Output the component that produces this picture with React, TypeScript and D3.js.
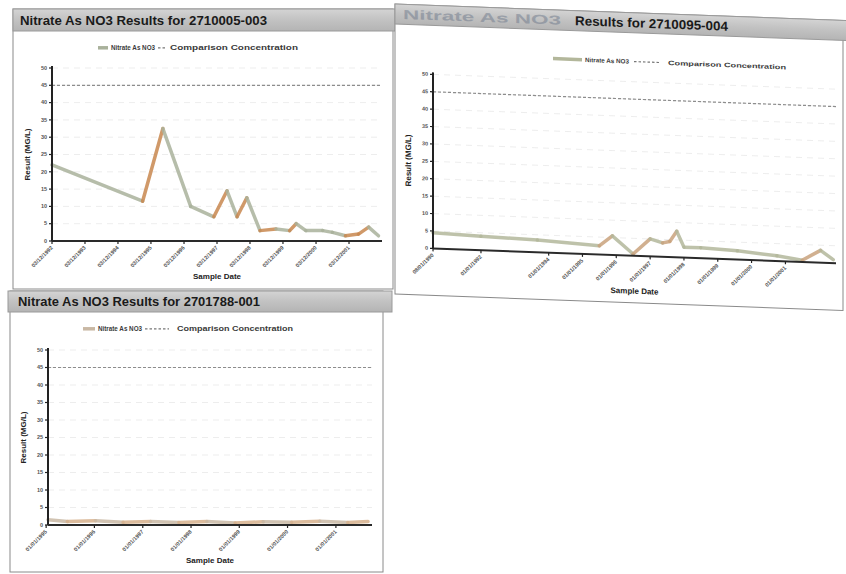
import React from 'react';
import * as d3 from 'd3';

// sample dates and results
const siteADates = ['1992-03-12', '1994-12-10', '1995-07-22', '1996-05-25', '1997-02-05', '1997-07-01', '1997-10-20', '1998-02-05', '1998-07-01', '1998-12-25', '1999-05-25', '1999-08-05', '1999-11-20', '2000-05-25', '2000-09-10', '2001-02-01', '2001-06-25', '2001-10-15', '2002-02-01'];
const siteAValues = [22, 11.5, 32.5, 10, 7, 14.5, 7, 12.5, 3, 3.5, 3, 5, 3, 3, 2.5, 1.5, 2, 4, 1.5];
const siteATicks = ['1992-03-12', '1993-03-12', '1994-03-12', '1995-03-12', '1996-03-12', '1997-03-12', '1998-03-12', '1999-03-12', '2000-03-12', '2001-03-12'];

const siteBDates = ['1990-08-01', '1992-01-01', '1993-09-01', '1995-07-01', '1995-11-20', '1996-07-01', '1997-01-01', '1997-05-15', '1997-08-01', '1997-10-15', '1998-01-01', '1998-07-01', '1999-08-01', '2000-10-01', '2001-07-01', '2002-01-15', '2002-06-01'];
const siteBValues = [4.5, 4, 3.5, 2.5, 5.5, 0.5, 5, 4, 4.5, 7.5, 3, 3, 2.5, 1.5, 0.5, 3.5, 1];
const siteBTicks = ['1990-08-01', '1992-01-01', '1994-01-01', '1995-01-01', '1996-01-01', '1997-01-01', '1998-01-01', '1999-01-01', '2000-01-01', '2001-01-01'];

const siteCDates = ['1995-01-15', '1995-06-10', '1996-01-10', '1996-08-05', '1997-03-01', '1997-10-01', '1998-05-01', '1998-12-01', '1999-07-01', '2000-02-01', '2000-09-01', '2001-04-01', '2001-09-01'];
const siteCValues = [1.5, 1, 1.2, 0.8, 1, 0.7, 1, 0.6, 0.9, 0.8, 1.1, 0.7, 1];
const siteCTicks = ['1995-01-01', '1996-01-01', '1997-01-01', '1998-01-01', '1999-01-01', '2000-01-01', '2001-01-01'];

const yTicks = [0, 5, 10, 15, 20, 25, 30, 35, 40, 45, 50];
const comparison = 45;

const parse = d3.timeParse('%Y-%m-%d');
const fmt = d3.timeFormat('%m/%d/%Y');
const FONT = '"Liberation Sans", Arial, sans-serif';

type Box = { x: number; y: number; w: number; h: number };
type Plot = { x0: number; x1: number; yTop: number; yBottom: number; end: string };
// legend: swatch start, text1 start/len, dash start/end, text2 start/len
type Legend = { y: number; sw: number; t1: number; t1Len: number; d0: number; d1: number; t2: number; t2Len: number };

interface PanelProps {
  title: string;
  titleX: number;
  titleLen: number;
  faded?: string;
  fadedX?: number;
  fadedLen?: number;
  frame: Box;
  bar: Box;
  plot: Plot;
  dates: string[];
  values: number[];
  ticks: string[];
  upColor: string;
  downColor: string;
  legend: Legend;
  transform?: string;
}

const Panel: React.FC<PanelProps> = (p) => {
  const pts = p.dates.map((d, i) => ({ date: parse(d)!, value: p.values[i] }));
  const x = d3
    .scaleTime()
    .domain([pts[0].date, parse(p.plot.end)!])
    .range([p.plot.x0, p.plot.x1]);
  const y = d3.scaleLinear().domain([0, 50]).range([p.plot.yBottom, p.plot.yTop]);
  const line = d3
    .line<{ date: Date; value: number }>()
    .x((d) => x(d.date))
    .y((d) => y(d.value));

  const segs = pts.slice(1).map((b, i) => ({ a: pts[i], b }));
  const midX = (p.plot.x0 + p.plot.x1) / 2;
  const midY = (p.plot.yTop + p.plot.yBottom) / 2;
  const gid = `bar${p.frame.x}${p.frame.y}`;
  const lg = p.legend;
  const ty = p.bar.y + p.bar.h / 2 + 4.6;

  return (
    <g transform={p.transform}>
      {/* frame */}
      <rect x={p.frame.x} y={p.frame.y} width={p.frame.w} height={p.frame.h} fill="#fff" stroke="#8a8a8a" strokeWidth={1} />
      <defs>
        <linearGradient id={gid} x1="0" x2="0" y1="0" y2="1">
          <stop offset="0" stopColor="#d4d4d4" />
          <stop offset="0.5" stopColor="#c2c2c2" />
          <stop offset="1" stopColor="#b4b4b4" />
        </linearGradient>
      </defs>
      <rect x={p.bar.x} y={p.bar.y} width={p.bar.w} height={p.bar.h} fill={`url(#${gid})`} stroke="#9a9a9a" />
      {p.faded ? (
        <text x={p.fadedX} y={ty} textLength={p.fadedLen} lengthAdjust="spacingAndGlyphs" fontFamily={FONT} fontWeight="bold" fontSize={13} fill="#6f7a8c" opacity={0.5}>
          {p.faded}
        </text>
      ) : null}
      <text x={p.titleX} y={ty} textLength={p.titleLen} lengthAdjust="spacingAndGlyphs" fontFamily={FONT} fontWeight="bold" fontSize={13} fill="#1a1a1a">
        {p.title}
      </text>

      {/* legend */}
      <g fontFamily={FONT} fontWeight="bold" fontSize={6.3} fill="#3a3a3a">
        <line x1={lg.sw} x2={lg.t1 - 3} y1={lg.y - 2.2} y2={lg.y - 2.2} stroke={p.downColor} strokeWidth={3.5} />
        <text x={lg.t1} y={lg.y} textLength={lg.t1Len} lengthAdjust="spacingAndGlyphs">Nitrate As NO3</text>
        <line x1={lg.d0} x2={lg.d1} y1={lg.y - 2.2} y2={lg.y - 2.2} stroke="#777" strokeWidth={1.2} strokeDasharray="2.5,2" />
        <text x={lg.t2} y={lg.y} textLength={lg.t2Len} lengthAdjust="spacingAndGlyphs">Comparison Concentration</text>
      </g>

      {/* faint gridlines */}
      {yTicks.slice(1).map((t) => (
        <line key={t} x1={p.plot.x0} x2={p.plot.x1} y1={y(t)} y2={y(t)} stroke="#e8e8e8" strokeWidth={0.8} strokeDasharray="6,5" />
      ))}

      {/* comparison concentration */}
      <line x1={p.plot.x0} x2={p.plot.x1} y1={y(comparison)} y2={y(comparison)} stroke="#8d8d8d" strokeWidth={1.2} strokeDasharray="3,2" />

      {/* result line */}
      {segs.map((s, i) => (
        <path key={i} d={line([s.a, s.b]) || ''} fill="none" stroke={s.b.value > s.a.value ? p.upColor : p.downColor} strokeWidth={3.5} strokeLinecap="round" opacity={0.85} />
      ))}

      {/* y axis */}
      <line x1={p.plot.x0} x2={p.plot.x0} y1={p.plot.yTop - 2} y2={p.plot.yBottom} stroke="#222" strokeWidth={2} />
      {yTicks.map((t) => (
        <g key={t} transform={`translate(${p.plot.x0},${y(t)})`}>
          <line x1={-3} x2={0} stroke="#222" strokeWidth={1.2} />
          <text x={-5} dy="0.32em" textAnchor="end" fontFamily={FONT} fontSize={5.5} fontWeight="bold" fill="#555">{t}</text>
        </g>
      ))}

      {/* x axis */}
      <line x1={p.plot.x0} x2={p.plot.x1} y1={p.plot.yBottom} y2={p.plot.yBottom} stroke="#2a2a2a" strokeWidth={2} />
      {p.ticks.map((t) => {
        const tx = x(parse(t)!);
        return (
          <g key={t} transform={`translate(${tx},${p.plot.yBottom})`}>
            <line y1={0} y2={3} stroke="#222" strokeWidth={1.2} />
            <text transform="translate(0,6) rotate(-45)" textAnchor="end" dy="0.3em" fontFamily={FONT} fontSize={5.5} fontWeight="bold" fill="#555">
              {fmt(parse(t)!)}
            </text>
          </g>
        );
      })}

      {/* axis titles */}
      <text transform={`translate(${p.plot.x0 - 22},${midY}) rotate(-90)`} textAnchor="middle" fontFamily={FONT} fontWeight="bold" fontSize={8} fill="#222">
        Result (MG/L)
      </text>
      <text x={midX} y={p.plot.yBottom + 38} textAnchor="middle" fontFamily={FONT} fontWeight="bold" fontSize={8} fill="#222">
        Sample Date
      </text>
    </g>
  );
};

export default function App() {
  return (
    <svg width={846} height={574} style={{ position: 'absolute', left: 0, top: 0, background: '#fff' }}>
      <rect width={846} height={574} fill="#fff" />
      <Panel
        title="Nitrate As NO3 Results for 2710005-003"
        titleX={20}
        titleLen={247}
        frame={{ x: 13, y: 9, w: 380, h: 280 }}
        bar={{ x: 13, y: 9, w: 384, h: 22 }}
        plot={{ x0: 52, x1: 382, yTop: 68, yBottom: 241, end: '2002-03-12' }}
        dates={siteADates}
        values={siteAValues}
        ticks={siteATicks}
        upColor="#c8874f"
        downColor="#a9b19b"
        legend={{ y: 50, sw: 98, t1: 111, t1Len: 44, d0: 158, d1: 166, t2: 170, t2Len: 128 }}
      />
      <Panel
        title="Results for 2710095-004"
        titleX={575}
        titleLen={153}
        faded="Nitrate As NO3 "
        fadedX={403}
        fadedLen={158}
        frame={{ x: 395, y: 4, w: 448, h: 290 }}
        bar={{ x: 395, y: 4, w: 460, h: 20 }}
        plot={{ x0: 433, x1: 836, yTop: 73, yBottom: 247, end: '2002-07-01' }}
        dates={siteBDates}
        values={siteBValues}
        ticks={siteBTicks}
        upColor="#c9a27c"
        downColor="#b3b79b"
        legend={{ y: 55, sw: 553, t1: 585, t1Len: 44, d0: 634, d1: 660, t2: 668, t2Len: 118 }}
        transform="translate(395,0) skewY(2.1) translate(-395,0)"
      />
      <Panel
        title="Nitrate As NO3 Results for 2701788-001"
        titleX={18}
        titleLen={242}
        frame={{ x: 10, y: 291, w: 373, h: 281 }}
        bar={{ x: 8, y: 291, w: 384, h: 21 }}
        plot={{ x0: 48, x1: 372, yTop: 350, yBottom: 525, end: '2001-10-01' }}
        dates={siteCDates}
        values={siteCValues}
        ticks={siteCTicks}
        upColor="#d6b08c"
        downColor="#c9b8a4"
        legend={{ y: 331, sw: 83, t1: 98, t1Len: 44, d0: 145, d1: 169, t2: 177, t2Len: 116 }}
      />
    </svg>
  );
}
